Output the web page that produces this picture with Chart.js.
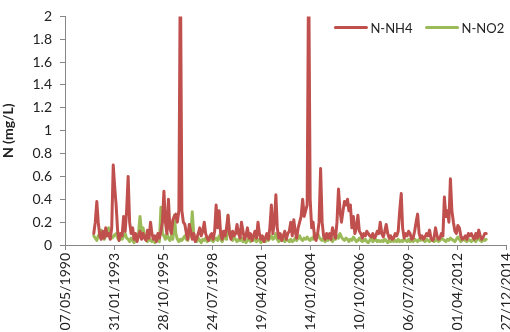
<!DOCTYPE html>
<html>
<head>
<meta charset="utf-8">
<script src="https://cdn.jsdelivr.net/npm/chart.js@4"></script>
<style>
  html, body { margin: 0; padding: 0; background: #fff; }
  #wrap { width: 510px; height: 332px; overflow: hidden; }
</style>
</head>
<body>
<div id="wrap"><canvas id="chart" width="526" height="332"></canvas></div>
<script>
// monthly samples, first one is Dec 1991
const startYear = 1991;
const startMonth = 11; // 0-based, December

const seriesNames = ["N-NH4", "N-NO2"];

const nh4 = [
  0.10, 0.20, 0.38, 0.20, 0.08, 0.05, 0.12, 0.06, 0.15, 0.08, 0.10, 0.05,
  0.15, 0.70, 0.50, 0.35, 0.12, 0.04, 0.10, 0.08, 0.25, 0.12, 0.30, 0.60,
  0.20, 0.10, 0.15, 0.05, 0.10, 0.03, 0.08, 0.12, 0.05, 0.10, 0.06, 0.04,
  0.13, 0.06, 0.20, 0.10, 0.05, 0.08, 0.03, 0.10, 0.06, 0.12, 0.20, 0.47,
  0.20, 0.10, 0.40, 0.15, 0.10, 0.22, 0.25, 0.27, 0.20, 0.30, 2.50, 0.30,
  0.20, 0.18, 0.10, 0.05, 0.18, 0.12, 0.05, 0.10, 0.03, 0.06, 0.10, 0.15,
  0.08, 0.12, 0.20, 0.10, 0.06, 0.04, 0.08, 0.10, 0.05, 0.12, 0.35, 0.15,
  0.30, 0.10, 0.05, 0.12, 0.08, 0.15, 0.26, 0.10, 0.05, 0.12, 0.08, 0.10,
  0.18, 0.10, 0.06, 0.20, 0.12, 0.05, 0.08, 0.15, 0.06, 0.10, 0.04, 0.08,
  0.12, 0.06, 0.20, 0.10, 0.05, 0.08, 0.03, 0.06, 0.10, 0.05, 0.15, 0.35,
  0.10, 0.20, 0.44, 0.15, 0.06, 0.10, 0.04, 0.08, 0.12, 0.05, 0.10, 0.12,
  0.20, 0.08, 0.22, 0.12, 0.06, 0.15, 0.20, 0.25, 0.40, 0.25, 0.30, 0.35,
  2.50, 0.40, 0.15, 0.20, 0.06, 0.04, 0.10, 0.20, 0.67, 0.20, 0.08, 0.05,
  0.10, 0.06, 0.10, 0.05, 0.15, 0.10, 0.06, 0.20, 0.49, 0.30, 0.20, 0.30,
  0.38, 0.35, 0.40, 0.30, 0.35, 0.15, 0.25, 0.10, 0.15, 0.26, 0.12, 0.10,
  0.06, 0.10, 0.08, 0.12, 0.10, 0.08, 0.07, 0.10, 0.06, 0.08, 0.12, 0.10,
  0.20, 0.10, 0.07, 0.12, 0.18, 0.10, 0.06, 0.08, 0.05, 0.06, 0.10, 0.08,
  0.12, 0.30, 0.45, 0.15, 0.06, 0.10, 0.08, 0.12, 0.10, 0.05, 0.06, 0.12,
  0.20, 0.27, 0.10, 0.06, 0.08, 0.05, 0.07, 0.10, 0.08, 0.13, 0.06, 0.04,
  0.06, 0.15, 0.08, 0.05, 0.06, 0.10, 0.08, 0.42, 0.25, 0.30, 0.20, 0.58,
  0.30, 0.20, 0.12, 0.10, 0.17, 0.15, 0.08, 0.05, 0.06, 0.08, 0.05, 0.10,
  0.08, 0.10, 0.07, 0.05, 0.10, 0.06, 0.13, 0.08, 0.05, 0.07, 0.10, 0.10
];

const no2 = [
  0.08, 0.06, 0.04, 0.08, 0.10, 0.13, 0.08, 0.05, 0.08, 0.12, 0.15, 0.10,
  0.06, 0.07, 0.09, 0.10, 0.06, 0.04, 0.07, 0.05, 0.08, 0.10, 0.06, 0.05,
  0.03, 0.06, 0.04, 0.02, 0.05, 0.08, 0.10, 0.25, 0.12, 0.15, 0.08, 0.05,
  0.03, 0.06, 0.04, 0.03, 0.05, 0.02, 0.04, 0.06, 0.03, 0.33, 0.10, 0.08,
  0.05, 0.10, 0.06, 0.04, 0.08, 0.05, 0.26, 0.10, 0.05, 0.03, 0.05, 0.04,
  0.06, 0.08, 0.05, 0.04, 0.10, 0.08, 0.29, 0.10, 0.05, 0.03, 0.06, 0.04,
  0.02, 0.05, 0.04, 0.06, 0.03, 0.05, 0.08, 0.04, 0.03, 0.05, 0.06, 0.04,
  0.08, 0.05, 0.03, 0.06, 0.08, 0.05, 0.26, 0.10, 0.06, 0.04, 0.07, 0.05,
  0.03, 0.05, 0.04, 0.06, 0.03, 0.05, 0.02, 0.04, 0.06, 0.03, 0.05, 0.04,
  0.06, 0.03, 0.05, 0.04, 0.02, 0.04, 0.06, 0.03, 0.05, 0.04, 0.06, 0.08,
  0.05, 0.06, 0.10, 0.05, 0.03, 0.05, 0.04, 0.06, 0.03, 0.05, 0.04, 0.03,
  0.05, 0.03, 0.04, 0.06, 0.04, 0.06, 0.08, 0.05, 0.04, 0.06, 0.05, 0.07,
  0.05, 0.04, 0.06, 0.05, 0.10, 0.06, 0.10, 0.07, 0.05, 0.04, 0.06, 0.03,
  0.05, 0.04, 0.06, 0.05, 0.03, 0.06, 0.05, 0.08, 0.06, 0.10, 0.07, 0.05,
  0.04, 0.06, 0.05, 0.03, 0.05, 0.04, 0.07, 0.05, 0.03, 0.04, 0.06, 0.04,
  0.03, 0.04, 0.05, 0.03, 0.02, 0.04, 0.06, 0.03, 0.04, 0.05, 0.03, 0.04,
  0.03, 0.04, 0.03, 0.05, 0.04, 0.02, 0.04, 0.03, 0.05, 0.03, 0.04, 0.03,
  0.05, 0.03, 0.04, 0.03, 0.05, 0.04, 0.03, 0.05, 0.03, 0.04, 0.03, 0.05,
  0.04, 0.03, 0.05, 0.04, 0.06, 0.04, 0.03, 0.05, 0.04, 0.03, 0.05, 0.04,
  0.03, 0.04, 0.05, 0.03, 0.04, 0.06, 0.05, 0.04, 0.03, 0.05, 0.04, 0.06,
  0.05, 0.04, 0.03, 0.05, 0.07, 0.05, 0.03, 0.04, 0.05, 0.04, 0.03, 0.05,
  0.04, 0.03, 0.05, 0.04, 0.03, 0.05, 0.06, 0.04, 0.03, 0.05, 0.04, 0.05
];

// x axis: days counted from 07/05/1990, ticks every 1000 days
const axisStart = Date.UTC(1990, 4, 7);
const xMin = 0;
const xMax = 9000;
const xStep = 1000;
const yMin = 0;
const yMax = 2;
const yStep = 0.2;

const DAY = 86400000;

function dayOf(i) {
  return (Date.UTC(startYear, startMonth + i, 15) - axisStart) / DAY;
}

function fmtDate(days) {
  const d = new Date(axisStart + days * DAY);
  const dd = String(d.getUTCDate()).padStart(2, "0");
  const mm = String(d.getUTCMonth() + 1).padStart(2, "0");
  return `${dd}/${mm}/${d.getUTCFullYear()}`;
}

const nh4Points = nh4.map((v, i) => ({ x: dayOf(i), y: v }));
const no2Points = no2.map((v, i) => ({ x: dayOf(i), y: v }));

const font = "Lato, 'Open Sans', sans-serif";
const axisColor = "#868686";
const textColor = "#222";

// legend drawn inside the plot, top right, like the Excel one
const insideLegend = {
  id: "insideLegend",
  afterDraw(chart) {
    const { ctx, chartArea } = chart;
    const sample = 33, gap = 3, itemGap = 13;
    ctx.save();
    ctx.font = `13px ${font}`;
    ctx.textBaseline = "middle";
    const items = chart.data.datasets.map((ds) => ({
      text: ds.label, color: ds.borderColor, w: ctx.measureText(ds.label).width,
    }));
    const total = items.reduce((s, it) => s + sample + gap + it.w, 0) + itemGap * (items.length - 1);
    let x = chartArea.right - 2 - total;
    const y = chartArea.top + 11;
    items.forEach((it) => {
      ctx.strokeStyle = it.color;
      ctx.lineWidth = 3;
      ctx.lineCap = "round";
      ctx.beginPath();
      ctx.moveTo(x + 1, y);
      ctx.lineTo(x + sample - 1, y);
      ctx.stroke();
      ctx.fillStyle = textColor;
      ctx.fillText(it.text, x + sample + gap, y + 1);
      x += sample + gap + it.w + itemGap;
    });
    ctx.restore();
  },
};

new Chart(document.getElementById("chart"), {
  type: "line",
  data: {
    datasets: [
      {
        label: seriesNames[0],
        data: nh4Points,
        borderColor: "#C0504D",
        backgroundColor: "#C0504D",
        borderWidth: 3,
        borderJoinStyle: "round",
        borderCapStyle: "round",
        pointRadius: 0,
        tension: 0,
      },
      {
        label: seriesNames[1],
        data: no2Points,
        borderColor: "#9BBB59",
        backgroundColor: "#9BBB59",
        borderWidth: 3,
        borderJoinStyle: "round",
        borderCapStyle: "round",
        pointRadius: 0,
        tension: 0,
      },
    ],
  },
  plugins: [insideLegend],
  options: {
    responsive: false,
    animation: false,
    layout: { padding: { top: 9, left: 0, right: 0, bottom: 0 } },
    plugins: {
      tooltip: { enabled: false },
      legend: { display: false },
    },
    scales: {
      x: {
        type: "linear",
        min: xMin,
        max: xMax,
        afterFit: (scale) => { scale.height = 87; },
        ticks: {
          stepSize: xStep,
          minRotation: 90,
          maxRotation: 90,
          padding: 3,
          color: textColor,
          font: { family: font, size: 14 },
          callback: (v) => fmtDate(v),
        },
        grid: {
          drawOnChartArea: false,
          drawTicks: true,
          tickLength: 5,
          color: axisColor,
        },
        border: { display: true, color: axisColor },
      },
      y: {
        min: yMin,
        max: yMax,
        afterFit: (scale) => { scale.width = 65; },
        ticks: {
          stepSize: yStep,
          padding: 8,
          color: textColor,
          font: { family: font, size: 14 },
          callback: (v) => String(Math.round(v * 10) / 10),
        },
        grid: {
          drawOnChartArea: false,
          drawTicks: true,
          tickLength: 5,
          color: axisColor,
        },
        border: { display: true, color: axisColor },
        title: {
          display: true,
          text: "N (mg/L)",
          color: textColor,
          font: { family: font, size: 14, weight: "bold" },
          padding: { top: 0, bottom: 0 },
        },
      },
    },
  },
});
</script>
</body>
</html>
